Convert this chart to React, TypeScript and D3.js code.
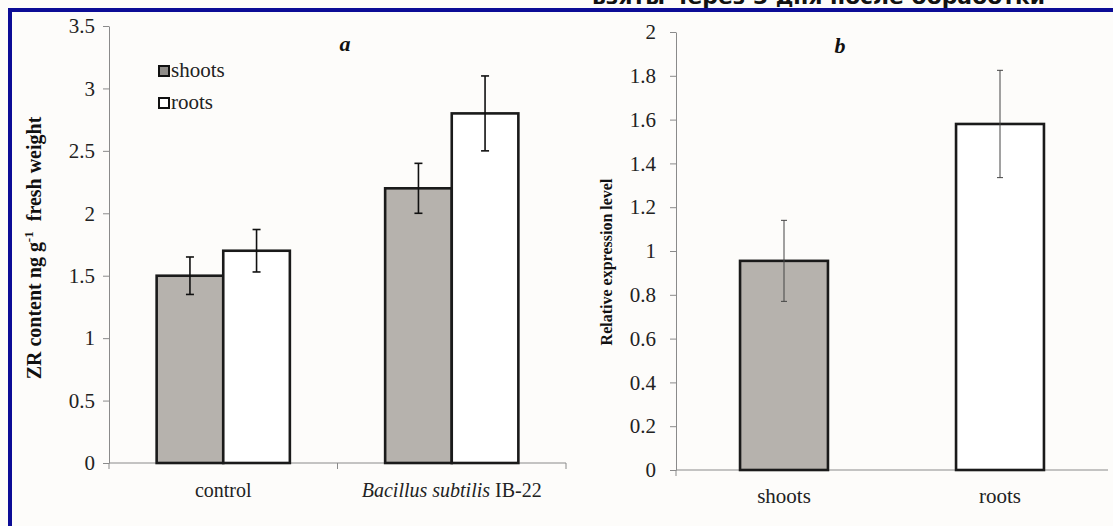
import React, { useEffect, useRef } from 'react';
import * as d3 from 'd3';

// panel a: ZR content
const groupsA = ['control', 'Bacillus subtilis IB-22'];
const seriesA = ['shoots', 'roots'];
const shootsA = [1.5, 2.2];
const rootsA = [1.7, 2.8];
const shootsErrA = [0.15, 0.2];
const rootsErrA = [0.17, 0.3];
const ticksA = [0, 0.5, 1, 1.5, 2, 2.5, 3, 3.5];

// panel b: relative expression
const catsB = ['shoots', 'roots'];
const valuesB = [0.955, 1.58];
const errB = [0.185, 0.245];
const ticksB = [0, 0.2, 0.4, 0.6, 0.8, 1, 1.2, 1.4, 1.6, 1.8, 2];

const W = 1113;
const H = 526;
const fills: Record<string, string> = { shoots: '#b6b2ad', roots: '#ffffff' };
const serif = '"Liberation Serif", "Times New Roman", serif';

const App = () => {
  const svgRef = useRef<SVGSVGElement>(null);

  useEffect(() => {
    document.body.style.margin = '0';
    const svg = d3.select(svgRef.current);
    svg.selectAll('*').remove();

    svg.append('rect').attr('width', W).attr('height', H).attr('fill', '#fdfcfa');

    // slide caption, cut off by the top edge
    svg.append('text')
      .attr('x', 592).attr('y', 4)
      .attr('font-family', '"DejaVu Sans", Verdana, sans-serif')
      .attr('font-weight', 'bold').attr('font-size', 22)
      .attr('textLength', 453).attr('lengthAdjust', 'spacingAndGlyphs')
      .attr('fill', '#111')
      .text('взяты через 3 дня после обработки');

    // blue frame
    svg.append('path')
      .attr('d', `M10,${H + 5} L10,10 L${W + 5},10`)
      .attr('fill', 'none').attr('stroke', '#0c0c96').attr('stroke-width', 4);

    // ---------- panel a ----------
    const ya = d3.scaleLinear().domain([0, 3.5]).range([463, 26]);
    const xa = d3.scaleBand().domain(groupsA).range([109, 566]).paddingInner(0.417).paddingOuter(0.2085);
    const xs = d3.scaleBand().domain(seriesA).range([0, xa.bandwidth()]);
    const ga = svg.append('g');

    const yAxisA = ga.append('g').attr('transform', 'translate(109,0)')
      .call(d3.axisLeft(ya).tickValues(ticksA).tickSize(6).tickSizeOuter(0).tickFormat(d => String(d)));
    yAxisA.select('.domain').attr('stroke', '#8a8a8a');
    yAxisA.selectAll('line').attr('stroke', '#8a8a8a');
    yAxisA.selectAll('text').attr('font-family', serif).attr('font-size', 21).attr('fill', '#222').attr('x', -14);

    const baseA = ya(0);
    ga.append('line').attr('x1', 109).attr('x2', 566).attr('y1', baseA).attr('y2', baseA)
      .attr('stroke', '#8a8a8a');
    const stepA = xa.step();
    [109, 109 + stepA, 566].forEach(x => {
      ga.append('line').attr('x1', x).attr('x2', x).attr('y1', baseA).attr('y2', baseA + 6)
        .attr('stroke', '#8a8a8a');
    });

    const rowsA = groupsA.map((g, i) => [
      { g, s: 'shoots', v: shootsA[i], e: shootsErrA[i] },
      { g, s: 'roots', v: rootsA[i], e: rootsErrA[i] },
    ]).flat();

    rowsA.forEach(d => {
      const x0 = (xa(d.g) ?? 0) + (xs(d.s) ?? 0);
      ga.append('rect')
        .attr('x', x0).attr('y', ya(d.v))
        .attr('width', xs.bandwidth()).attr('height', baseA - ya(d.v))
        .attr('fill', fills[d.s]).attr('stroke', '#1a1a1a').attr('stroke-width', 2.6);
    });
    rowsA.forEach(d => {
      const cx = (xa(d.g) ?? 0) + (xs(d.s) ?? 0) + xs.bandwidth() / 2;
      const top = ya(d.v + d.e);
      const bot = ya(d.v - d.e);
      const eb = ga.append('g').attr('stroke', '#111').attr('stroke-width', 1.6);
      eb.append('line').attr('x1', cx).attr('x2', cx).attr('y1', top).attr('y2', bot);
      eb.append('line').attr('x1', cx - 4).attr('x2', cx + 4).attr('y1', top).attr('y2', top);
      eb.append('line').attr('x1', cx - 4).attr('x2', cx + 4).attr('y1', bot).attr('y2', bot);
    });

    // category labels a
    const lblA = ga.append('g').attr('font-family', serif).attr('font-size', 20).attr('fill', '#222')
      .attr('text-anchor', 'middle');
    lblA.append('text').attr('x', (xa('control') ?? 0) + xa.bandwidth() / 2).attr('y', 497).text('control');
    const bt = lblA.append('text').attr('x', (xa(groupsA[1]) ?? 0) + xa.bandwidth() / 2).attr('y', 497);
    bt.append('tspan').attr('font-style', 'italic').text('Bacillus subtilis');
    bt.append('tspan').text(' IB-22');

    // legend
    const leg = ga.append('g');
    seriesA.forEach((s, i) => {
      const y = 66 + i * 32;
      leg.append('rect').attr('x', 159).attr('y', y).attr('width', 10).attr('height', 10)
        .attr('fill', s === 'shoots' ? '#8f8c88' : '#fff').attr('stroke', '#111').attr('stroke-width', 2);
      leg.append('text').attr('x', 171).attr('y', y + 11)
        .attr('font-family', serif).attr('font-size', 21).attr('fill', '#222').text(s);
    });

    // panel title a
    ga.append('text').attr('x', 345).attr('y', 51)
      .attr('font-family', serif).attr('font-size', 22).attr('font-weight', 'bold').attr('font-style', 'italic')
      .attr('text-anchor', 'middle').attr('fill', '#111').text('a');

    // y title a
    const ytA = ga.append('text')
      .attr('transform', `translate(41,248) rotate(-90)`)
      .attr('font-family', serif).attr('font-size', 20).attr('font-weight', 'bold')
      .attr('text-anchor', 'middle').attr('fill', '#111');
    ytA.append('tspan').text('ZR content ng g');
    ytA.append('tspan').attr('font-size', 13).attr('dy', -8).text('-1');
    ytA.append('tspan').attr('dy', 8).text('\u00a0 fresh weight');

    // ---------- panel b ----------
    const yb = d3.scaleLinear().domain([0, 2]).range([470, 32]);
    const xb = d3.scaleBand().domain(catsB).range([676, 1108]).paddingInner(0.593).paddingOuter(0.2965);
    const gb = svg.append('g');

    const yAxisB = gb.append('g').attr('transform', 'translate(676,0)')
      .call(d3.axisLeft(yb).tickValues(ticksB).tickSize(6).tickSizeOuter(0).tickFormat(d => String(d)));
    yAxisB.select('.domain').attr('stroke', '#8a8a8a');
    yAxisB.selectAll('line').attr('stroke', '#8a8a8a');
    yAxisB.selectAll('text').attr('font-family', serif).attr('font-size', 21).attr('fill', '#222').attr('x', -20);

    const baseB = yb(0);
    gb.append('line').attr('x1', 676).attr('x2', 1108).attr('y1', baseB).attr('y2', baseB)
      .attr('stroke', '#8a8a8a');
    gb.append('line').attr('x1', 676).attr('x2', 676).attr('y1', baseB).attr('y2', baseB + 6)
      .attr('stroke', '#8a8a8a');

    catsB.forEach((c, i) => {
      gb.append('rect')
        .attr('x', xb(c) ?? 0).attr('y', yb(valuesB[i]))
        .attr('width', xb.bandwidth()).attr('height', baseB - yb(valuesB[i]))
        .attr('fill', fills[c]).attr('stroke', '#1a1a1a').attr('stroke-width', 2.6);
    });
    catsB.forEach((c, i) => {
      const cx = (xb(c) ?? 0) + xb.bandwidth() / 2;
      const top = yb(valuesB[i] + errB[i]);
      const bot = yb(valuesB[i] - errB[i]);
      const eb = gb.append('g').attr('stroke', '#444').attr('stroke-width', 1);
      eb.append('line').attr('x1', cx).attr('x2', cx).attr('y1', top).attr('y2', bot);
      eb.append('line').attr('x1', cx - 3).attr('x2', cx + 3).attr('y1', top).attr('y2', top);
      eb.append('line').attr('x1', cx - 3).attr('x2', cx + 3).attr('y1', bot).attr('y2', bot);
    });

    gb.append('g').attr('font-family', serif).attr('font-size', 21).attr('fill', '#222')
      .attr('text-anchor', 'middle')
      .selectAll('text').data(catsB).join('text')
      .attr('x', d => (xb(d) ?? 0) + xb.bandwidth() / 2).attr('y', 503).text(d => d);

    gb.append('text').attr('x', 840).attr('y', 53)
      .attr('font-family', serif).attr('font-size', 22).attr('font-weight', 'bold').attr('font-style', 'italic')
      .attr('text-anchor', 'middle').attr('fill', '#111').text('b');

    gb.append('text')
      .attr('transform', `translate(612,262) rotate(-90)`)
      .attr('font-family', serif).attr('font-size', 16).attr('font-weight', 'bold')
      .attr('text-anchor', 'middle').attr('fill', '#111').text('Relative expression level');
  }, []);

  return <svg ref={svgRef} width={W} height={H} style={{ display: 'block' }} />;
};

export default App;
